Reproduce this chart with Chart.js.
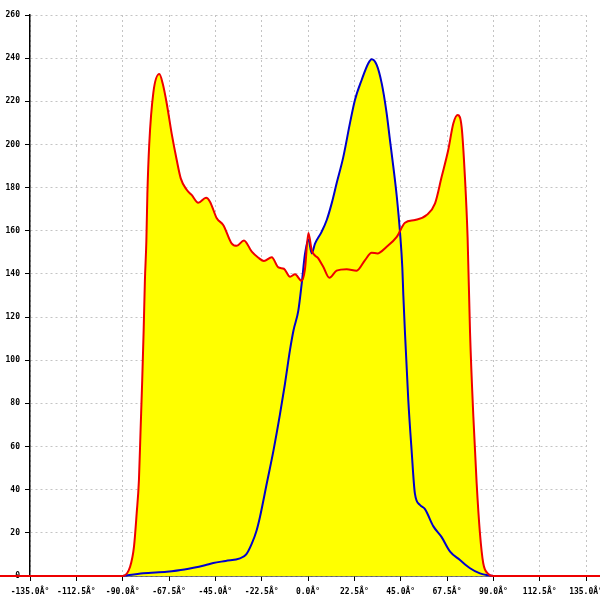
<!DOCTYPE html>
<html>
<head>
<meta charset="utf-8">
<script src="https://cdn.jsdelivr.net/npm/chart.js@4/dist/chart.umd.min.js"></script>
<style>
  html, body { margin: 0; padding: 0; background: #fff; }
  #wrap { width: 600px; height: 600px; }
</style>
</head>
<body>
<div id="wrap"><canvas id="chart" width="600" height="600"></canvas></div>
<script>
// tick values for the axes
const xTicks = [-135, -112.5, -90, -67.5, -45, -22.5, 0, 22.5, 45, 67.5, 90, 112.5, 135]
const yTicks = [0, 20, 40, 60, 80, 100, 120, 140, 160, 180, 200, 220, 240, 260]

// red series (angle, value)
const redX = [-150, -90, -86.4, -84.5, -83.2, -82.1, -81.3, -80.5, -79.8, -79.2, -78.5, -78, -77.1, -75.1,
  -72.2, -70.5, -68.6, -66.2, -63.8, -61.8, -58.9, -56.5, -53.3, -49.5, -47.6, -44.3, -41.1, -37.1,
  -34.6, -31.1, -27.3, -24.1, -21.4, -17.6, -14.4, -11.7, -8.7, -6.3, -3.1, -1.5, 0.2, 1.8, 5, 7.4,
  10.4, 13.9, 18.8, 23.6, 27.7, 30.9, 33.7, 38.2, 43.1, 47.1, 52, 57.6, 61.7, 64.9, 68.1, 70.6, 72.7,
  74.6, 76.2, 77.5, 78.7, 80.3, 81.9, 83.5, 85.1, 87.5, 90, 150]
const redY = [0, 0, 4.3, 13.6, 29, 44.5, 67.7, 90.8, 114, 137, 155, 177, 200, 224,
  232.6, 228, 219, 205, 193, 184.3, 179, 176.6, 173, 175.3, 173.5, 165.8, 162.6, 154.2,
  153, 155.5, 150.3, 147.5, 146, 147.7, 143, 142.4, 138.7, 139.8, 136.8, 142, 159, 151, 147.2, 143.3,
  138.2, 141.5, 142.2, 141.5, 146.4, 149.8, 149.5, 152.6, 157.2, 163.7, 165, 167.3, 172.7, 185, 197.4, 209.8, 213.6,
  208.2, 185, 157, 112.5, 73.8, 43, 19.8, 5.9, 1, 0, 0]

// blue series (angle, value)
const blueX = [-90, -80, -68.6, -60, -50, -46, -40, -33, -30, -27.3, -25, -23.3, -20, -16.8, -13.6,
  -11.2, -8.7, -7, -4.7, -3, -1.5, 0.2, 1.8, 3.4, 6.6, 9.1, 11.5, 13.9, 17.1, 20.4, 22.8, 26.1, 29.3,
  30.9, 33.4, 35.8, 38.2, 39.8, 41.4, 43.1, 44.7, 45.8, 46.3, 47.1, 48.7, 50.3, 51.9, 54.4, 56.8, 60.9,
  64.9, 69, 73.8, 78.7, 83.5, 88.4, 90]
const blueY = [0, 1.3, 2, 3, 5, 6, 7, 8.2, 10, 15, 21, 27.5, 43, 58, 75,
  89, 105, 114, 123, 136, 149, 156, 149.5, 154, 159.5, 165, 172.7, 182, 194, 210, 220.6, 230, 237.6,
  239.5, 236.8, 228.3, 214.4, 202, 190, 176, 159, 143, 130, 112.5, 81.6, 58.4, 38.3, 32.9, 31, 23,
  18, 11.3, 7.4, 3.6, 1.2, 0.2, 0]

const toPoints = (xs, ys) => xs.map((x, i) => ({ x: x, y: ys[i] }))

const tickFont = { family: 'DejaVu Sans Mono', size: 8, weight: 'bold' }

const ctx = document.getElementById('chart').getContext('2d')
let chart = new Chart(ctx, {
  type: 'line',
  data: {
    datasets: [{
      data: toPoints(redX, redY),
      borderColor: '#ee0000',
      backgroundColor: '#ffff00',
      borderWidth: 2,
      fill: 'origin',
      pointRadius: 0,
      cubicInterpolationMode: 'monotone',
      clip: false
    }, {
      data: toPoints(blueX, blueY),
      borderColor: '#0000cc',
      backgroundColor: '#ffff00',
      borderWidth: 2,
      fill: 'origin',
      pointRadius: 0,
      cubicInterpolationMode: 'monotone',
      clip: false
    }]
  },
  options: {
    responsive: false,
    animation: false,
    layout: { padding: { top: 15, right: 14, left: 0, bottom: 0 } },
    plugins: {
      legend: { display: false },
      tooltip: { enabled: false },
      filler: { drawTime: 'beforeDatasetsDraw' }
    },
    scales: {
      x: {
        type: 'linear',
        min: -135,
        max: 135,
        afterBuildTicks: (scale) => { scale.ticks = xTicks.map(v => ({ value: v })) },
        afterFit: (scale) => { scale.height = 24; scale.paddingLeft = 0; scale.paddingRight = 0 },
        ticks: {
          color: '#000',
          font: tickFont,
          padding: 6,
          maxRotation: 0,
          autoSkip: false,
          callback: (v) => v.toFixed(1) + 'Â°'
        },
        grid: {
          color: '#c4c4c4',
          tickColor: '#000',
          tickLength: 5,
          tickBorderDash: []
        },
        border: { color: '#000', width: 1.5, dash: [2, 3] }
      },
      y: {
        min: 0,
        max: 260,
        afterBuildTicks: (scale) => { scale.ticks = yTicks.map(v => ({ value: v })) },
        afterFit: (scale) => { scale.width = 30; scale.paddingTop = 0; scale.paddingBottom = 0 },
        ticks: {
          color: '#000',
          font: tickFont,
          padding: 5,
          autoSkip: false
        },
        grid: {
          color: '#c4c4c4',
          tickColor: '#000',
          tickLength: 5,
          tickBorderDash: []
        },
        border: { color: '#000', width: 1.5, dash: [2, 3] }
      }
    }
  }
})
</script>
</body>
</html>
